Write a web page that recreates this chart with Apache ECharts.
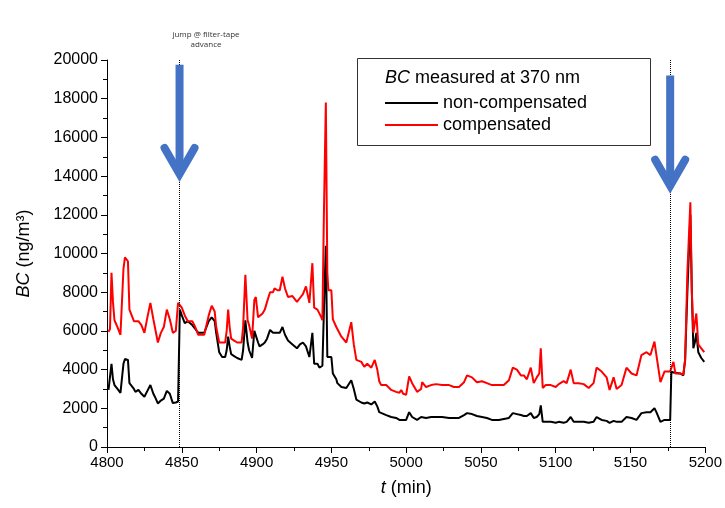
<!DOCTYPE html>
<html>
<head>
<meta charset="utf-8">
<script src="https://cdn.jsdelivr.net/npm/echarts@6/dist/echarts.min.js"></script>
<style>html,body{margin:0;padding:0;background:#fff}#c{width:725px;height:508px}</style>
</head>
<body>
<div id="c"></div>
<script>
const timeMin = [4801,4802,4803,4804,4805,4807,4809,4811,4812,4814,4815,4816,4818,4819,4821,4823,4825,4827,4829,4831,4832,4834,4836,4837,4838,4840,4842,4844,4846,4847.5,4848.7,4850,4852,4854,4857,4859,4861,4863,4865,4868,4870,4872,4873,4875,4877,4879,4880,4881,4882,4883,4885,4887,4890,4891,4892.5,4894,4895,4897,4898.5,4899.5,4901,4902,4904,4905.5,4907,4909,4911,4912,4914,4915.5,4917.3,4919,4921,4924,4927,4929,4931,4933,4935.3,4937.3,4938.5,4940.7,4942,4943.3,4944,4945,4946.3,4947.3,4948,4950,4951,4953.3,4954,4956.7,4960,4961,4963.3,4965,4966.7,4970,4972,4973.3,4974,4976.7,4979,4980.7,4982,4983.3,4986.7,4990,4993.3,4995.5,4996.7,4998,5000,5002,5004,5007.3,5010,5010.7,5013.3,5016.7,5020,5024,5028.7,5032,5035.3,5038.7,5040.7,5044,5047.3,5050.7,5054,5057.3,5062,5065.3,5068.7,5071.3,5074,5076.7,5078.7,5080.7,5083.3,5085.3,5087.3,5089,5090,5091.3,5093.3,5096.7,5100,5102,5105.3,5107.3,5110,5112,5115.3,5118.7,5122,5125.3,5127.3,5130.7,5134,5136,5138.7,5140.7,5144,5147.3,5150.7,5154,5157.3,5160.7,5163.3,5166,5167.3,5170,5172.7,5174,5176.5,5177.3,5178.7,5180,5183.3,5185.3,5186.5,5188,5190,5191,5192,5193,5194,5195.3,5197.3,5199.3];
const nonCompensated = [2950,3000,4300,3500,3200,3000,2800,4300,4550,4500,3300,3200,3000,2850,2950,2750,2600,2900,3200,2750,2600,2250,2400,2450,2500,2900,2750,2270,2300,2350,7100,6800,6400,6500,6300,6100,5900,5900,5900,6500,6700,6500,5900,4900,4650,4650,5000,5700,5200,4800,4700,4600,4500,5000,6550,5400,5000,4600,6000,6050,5400,5200,5300,5400,5600,6050,5900,5900,5900,5900,6200,5800,5500,5300,5100,5300,5400,5200,4650,5900,4300,4300,4100,4000,4200,7000,10400,4650,4600,4650,3800,3500,3300,3100,3050,3100,3450,3000,2450,2300,2250,2300,2300,2200,2350,2100,1800,1750,1650,1550,1500,1400,1400,1400,1400,1800,1550,1400,1550,1650,1500,1550,1550,1550,1500,1500,1500,1650,1750,1700,1600,1550,1500,1400,1400,1450,1500,1750,1700,1650,1600,1600,1750,1500,1550,1700,2150,1300,1300,1300,1250,1300,1250,1300,1550,1300,1300,1300,1250,1300,1550,1400,1350,1250,1350,1300,1300,1550,1500,1400,1750,1800,1800,2000,1800,1300,1400,1450,1400,3900,3850,3800,3800,3700,4500,8000,12000,8000,5100,5400,5900,4900,4600,4400];
const compensated = [5950,6100,9000,7500,6550,6200,5800,9200,9800,9600,7100,7200,6500,6400,6500,6300,5900,6700,7450,6600,6200,5400,5900,6000,6200,7100,6600,5900,6000,7450,7450,7200,6800,6500,6500,6200,5800,5800,5800,6800,7300,7000,6200,5400,5400,5400,6000,7100,6200,5600,5500,5400,5400,6200,8900,6550,6300,5600,7600,7750,6700,6650,6900,7100,7500,8000,8000,8200,8100,8100,8800,8200,7750,7800,7500,7700,7900,8300,7450,9500,7200,7100,7100,6700,6550,12000,17800,9000,8100,8100,6600,6200,6100,5700,5400,5500,6450,5300,4500,4400,4150,4150,4300,4100,4500,4000,3400,3200,3200,2950,2850,2800,2950,2750,2700,3650,3300,2850,3000,3350,3100,3200,3250,3200,3200,3100,3100,3350,3700,3600,3350,3400,3300,3200,3200,3200,3450,4100,4000,3700,3700,3500,4100,3300,3600,3800,5100,3050,3200,3200,3100,3250,3400,3300,4000,3300,3300,3250,3050,3300,4100,3900,3600,2950,3600,3000,3200,4100,3800,3700,4750,4900,4750,5450,4750,3350,3900,4000,3900,3850,4400,3800,3800,3750,4500,9000,12650,8000,5900,6000,6900,5300,5100,4900];
const seriesNames = ['non-compensated', 'compensated'];
const filterAdvanceTimes = [4848.5, 5176.5];
const arrowTop = [19750, 19200];
const arrowTip = [13900, 13300];
const yTicks = {min: 0, max: 20000, interval: 2000};
const xTicks = {min: 4800, max: 5200, interval: 50};

const chart = echarts.init(document.getElementById('c'), null, {renderer: 'canvas'});
const FONT = 'Liberation Sans, Arial, sans-serif';
const blue = '#4472C4';

const arrowData = filterAdvanceTimes.map((t, i) => [t, arrowTop[i], arrowTip[i]]);

chart.setOption({
  animation: false,
  backgroundColor: '#fff',
  grid: {left: 107, right: 18, top: 60, bottom: 61, containLabel: false},
  xAxis: {
    type: 'value', min: xTicks.min, max: xTicks.max, interval: xTicks.interval,
    name: '{i|t} (min)', nameLocation: 'middle', nameGap: 32,
    nameTextStyle: {fontFamily: FONT, fontSize: 18, color: '#000', rich: {i: {fontStyle: 'italic', fontFamily: FONT, fontSize: 18, color: '#000'}}},
    axisLine: {lineStyle: {color: '#000', width: 1}},
    axisTick: {show: true, inside: false, length: 6, lineStyle: {color: '#000'}},
    minorTick: {show: true, splitNumber: 2, length: 4, lineStyle: {color: '#000'}},
    axisLabel: {fontFamily: FONT, fontSize: 15, color: '#000', margin: 8, formatter: v => String(v)},
    splitLine: {show: false}
  },
  yAxis: {
    type: 'value', min: yTicks.min, max: yTicks.max, interval: yTicks.interval,
    name: '{i|BC} (ng/m³)', nameLocation: 'middle', nameGap: 74, nameRotate: 90,
    nameTextStyle: {fontFamily: FONT, fontSize: 18, color: '#000', rich: {i: {fontStyle: 'italic', fontFamily: FONT, fontSize: 18, color: '#000'}}},
    axisLine: {show: true, lineStyle: {color: '#000', width: 1}},
    axisTick: {show: true, inside: false, length: 6, lineStyle: {color: '#000'}},
    minorTick: {show: true, splitNumber: 2, length: 4, lineStyle: {color: '#000'}},
    axisLabel: {fontFamily: FONT, fontSize: 16, color: '#000', margin: 9, formatter: v => String(v)},
    splitLine: {show: false}
  },
  legend: {
    data: seriesNames, orient: 'vertical', left: 385, top: 94, z: 60, padding: 0,
    icon: 'rect', itemWidth: 53, itemHeight: 2, itemGap: 4,
    textStyle: {fontFamily: FONT, fontSize: 18, color: '#000', lineHeight: 18}
  },
  graphic: [
    {type: 'rect', left: 357, top: 58, z: 0, shape: {width: 293, height: 87}, style: {fill: '#fff', stroke: '#333', lineWidth: 1}},
    {type: 'text', left: 385, top: 69, z: 51, style: {text: '{i|BC} measured at 370 nm', fontFamily: FONT, fontSize: 18, fill: '#000', rich: {i: {fontStyle: 'italic', fontFamily: FONT, fontSize: 18, fill: '#000'}}}},
    {type: 'text', x: 206, y: 30, z: 51, style: {text: 'jump @ filter-tape\nadvance', fontFamily: 'Open Sans, sans-serif', fontSize: 8, fill: '#333', align: 'center', lineHeight: 10}}
  ],
  series: [
    {
      name: seriesNames[0], type: 'line', showSymbol: false, z: 3,
      data: timeMin.map((t, i) => [t, nonCompensated[i]]),
      lineStyle: {color: '#000', width: 2}, itemStyle: {color: '#000'},
      markLine: {
        silent: true, symbol: 'none', label: {show: false},
        lineStyle: {type: 'dotted', color: '#000', width: 1},
        data: filterAdvanceTimes.map(t => ({xAxis: t}))
      }
    },
    {
      name: seriesNames[1], type: 'line', showSymbol: false, z: 4,
      data: timeMin.map((t, i) => [t, compensated[i]]),
      lineStyle: {color: '#ff0000', width: 2}, itemStyle: {color: '#ff0000'}
    },
    {
      type: 'custom', z: 10, silent: true,
      data: arrowData,
      renderItem: function (params, api) {
        const top = api.coord([api.value(0), api.value(1)]);
        const tip = api.coord([api.value(0), api.value(2)]);
        return {
          type: 'group',
          children: [
            {type: 'line', shape: {x1: top[0], y1: top[1], x2: tip[0], y2: tip[1] - 6}, style: {stroke: blue, lineWidth: 8, lineCap: 'butt'}},
            {type: 'polyline', shape: {points: [[tip[0] - 15, tip[1] - 30], [tip[0], tip[1] - 4], [tip[0] + 15, tip[1] - 30]]}, style: {stroke: blue, fill: null, lineWidth: 8, lineCap: 'round', lineJoin: 'miter'}}
          ]
        };
      }
    }
  ]
});
</script>
</body>
</html>
